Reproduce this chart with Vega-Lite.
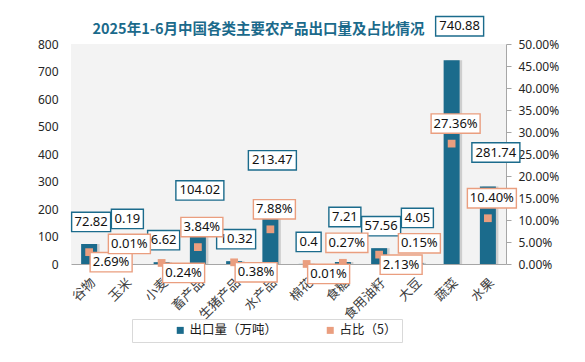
{
  "$schema": "https://vega.github.io/schema/vega-lite/v6.json",
  "width": 435,
  "height": 220,
  "autosize": "none",
  "padding": {"left": 71, "top": 44, "right": 79, "bottom": 98},
  "background": "#ffffff",
  "title": {"text": "2025年1-6月中国各类主要农产品出口量及占比情况", "font": "Noto Sans CJK SC", "fontSize": 14.5, "fontWeight": "bold", "color": "#1b6a8b", "anchor": "middle", "frame": "group", "dx": -30, "dy": 30, "offset": 6},
  "data": {"values": [
    {"cat": "谷物", "volume": 72.82, "share": 0.0269},
    {"cat": "玉米", "volume": 0.19, "share": 0.0001},
    {"cat": "小麦", "volume": 6.62, "share": 0.0024},
    {"cat": "畜产品", "volume": 104.02, "share": 0.0384},
    {"cat": "生猪产品", "volume": 10.32, "share": 0.0038},
    {"cat": "水产品", "volume": 213.47, "share": 0.0788},
    {"cat": "棉花", "volume": 0.4, "share": 0.0001},
    {"cat": "食糖", "volume": 7.21, "share": 0.0027},
    {"cat": "食用油籽", "volume": 57.56, "share": 0.0213},
    {"cat": "大豆", "volume": 4.05, "share": 0.0015},
    {"cat": "蔬菜", "volume": 740.88, "share": 0.2736},
    {"cat": "水果", "volume": 281.74, "share": 0.104}
  ]},
  "transform": [
    {"window": [{"op": "row_number", "as": "idx"}]},
    {"calculate": "(datum.idx - 1) % 2", "as": "par"},
    {"calculate": "toString(datum.volume)", "as": "vtxt"},
    {"calculate": "format(datum.share, '.2%')", "as": "stxt"},
    {"calculate": "'v' + length(datum.vtxt)", "as": "vkey"},
    {"calculate": "'s' + length(datum.stxt)", "as": "skey"}
  ],
  "encoding": {
    "x": {"field": "cat", "type": "nominal", "sort": null,
      "scale": {"paddingInner": 0.558, "paddingOuter": 0.279},
      "axis": {"title": null, "labelAngle": -45, "labelFont": "Noto Sans CJK SC", "labelFontSize": 13, "labelColor": "#404040", "ticks": false, "domainColor": "#a6a6a6", "domainWidth": 1.2, "labelPadding": 12}}
  },
  "layer": [
    {"mark": {"type": "bar", "size": 16, "xOffset": 2.5, "color": "#b5b5b5", "opacity": 0.6},
     "encoding": {"y": {"field": "volume", "type": "quantitative", "scale": {"domain": [0, 800]}, "axis": null}}},
    {"mark": {"type": "bar", "size": 16},
     "encoding": {
       "y": {"field": "volume", "type": "quantitative", "scale": {"domain": [0, 800]},
         "axis": {"title": null, "orient": "left", "domain": false, "ticks": false, "labelPadding": 13, "values": [0, 100, 200, 300, 400, 500, 600, 700, 800]}},
       "color": {"datum": "出口量（万吨）", "type": "nominal",
         "scale": {"domain": ["出口量（万吨）", "占比（5）"], "range": ["#1b6b8c", "#ea9e7f"]},
         "legend": {"title": null, "orient": "none", "legendX": 61, "legendY": 275, "direction": "horizontal", "symbolType": "square", "symbolSize": 49, "symbolOffset": 37, "symbolStrokeWidth": 0, "columnPadding": 9, "gridAlign": "all", "strokeColor": "#d9d9d9", "padding": 5, "labelFont": "Noto Sans CJK SC", "labelFontSize": 12.5, "labelColor": "#1a1a1a", "labelOffset": 3}}
     }},
    {"mark": {"type": "point", "shape": "square", "size": 60, "filled": true, "opacity": 1},
     "encoding": {
       "y": {"field": "share", "type": "quantitative", "scale": {"domain": [0, 0.5]},
         "axis": {"title": null, "orient": "right", "format": ".2%", "domainColor": "#a6a6a6", "tickColor": "#a6a6a6", "tickSize": 5, "labelPadding": 7, "values": [0, 0.05, 0.1, 0.15, 0.2, 0.25, 0.3, 0.35, 0.4, 0.45, 0.5]}},
       "color": {"datum": "占比（5）", "type": "nominal",
         "scale": {"domain": ["出口量（万吨）", "占比（5）"], "range": ["#1b6b8c", "#ea9e7f"]},
         "legend": {"title": null, "orient": "none", "legendX": 61, "legendY": 275, "direction": "horizontal", "symbolType": "square", "symbolSize": 49, "symbolOffset": 37, "symbolStrokeWidth": 0, "columnPadding": 9, "gridAlign": "all", "strokeColor": "#d9d9d9", "padding": 5, "labelFont": "Noto Sans CJK SC", "labelFontSize": 12.5, "labelColor": "#1a1a1a", "labelOffset": 3}}
     }},
    {"transform": [{"filter": "datum.par == 0 && datum.volume <= 250"}],
     "mark": {"type": "point", "size": 400, "filled": true, "fill": "#ffffff", "stroke": "#1b6b8c", "strokeWidth": 1.4, "opacity": 1, "xOffset": 2, "yOffset": -22},
     "encoding": {"y": {"field": "volume", "type": "quantitative", "scale": {"domain": [0, 800]}, "axis": null},
       "shape": {"field": "vkey", "type": "nominal", "legend": null, "scale": {"domain": ["v3", "v4", "v5", "v6", "s5", "s6"], "range": ["M-1.25,-0.97H1.25V0.97H-1.25Z", "M-1.6,-0.97H1.6V0.97H-1.6Z", "M-1.95,-0.97H1.95V0.97H-1.95Z", "M-2.4,-0.97H2.4V0.97H-2.4Z", "M-2.1,-0.97H2.1V0.97H-2.1Z", "M-2.45,-0.97H2.45V0.97H-2.45Z"]}}}},
    {"transform": [{"filter": "datum.par == 0 && datum.volume <= 250"}],
     "mark": {"type": "text", "font": "Noto Sans", "fontSize": 13, "color": "#111111", "baseline": "middle", "xOffset": 2, "yOffset": -22},
     "encoding": {"y": {"field": "volume", "type": "quantitative", "scale": {"domain": [0, 800]}, "axis": null}, "text": {"field": "vtxt"}}},
    {"transform": [{"filter": "datum.par == 1 && datum.volume <= 250"}],
     "mark": {"type": "point", "size": 400, "filled": true, "fill": "#ffffff", "stroke": "#1b6b8c", "strokeWidth": 1.4, "opacity": 1, "xOffset": 2, "yOffset": -45},
     "encoding": {"y": {"field": "volume", "type": "quantitative", "scale": {"domain": [0, 800]}, "axis": null},
       "shape": {"field": "vkey", "type": "nominal", "legend": null, "scale": {"domain": ["v3", "v4", "v5", "v6", "s5", "s6"], "range": ["M-1.25,-0.97H1.25V0.97H-1.25Z", "M-1.6,-0.97H1.6V0.97H-1.6Z", "M-1.95,-0.97H1.95V0.97H-1.95Z", "M-2.4,-0.97H2.4V0.97H-2.4Z", "M-2.1,-0.97H2.1V0.97H-2.1Z", "M-2.45,-0.97H2.45V0.97H-2.45Z"]}}}},
    {"transform": [{"filter": "datum.par == 1 && datum.volume <= 250"}],
     "mark": {"type": "text", "font": "Noto Sans", "fontSize": 13, "color": "#111111", "baseline": "middle", "xOffset": 2, "yOffset": -45},
     "encoding": {"y": {"field": "volume", "type": "quantitative", "scale": {"domain": [0, 800]}, "axis": null}, "text": {"field": "vtxt"}}},
    {"transform": [{"filter": "datum.volume > 250"}],
     "mark": {"type": "point", "size": 400, "filled": true, "fill": "#ffffff", "stroke": "#1b6b8c", "strokeWidth": 1.4, "opacity": 1, "xOffset": 8, "yOffset": -34},
     "encoding": {"y": {"field": "volume", "type": "quantitative", "scale": {"domain": [0, 800]}, "axis": null},
       "shape": {"field": "vkey", "type": "nominal", "legend": null, "scale": {"domain": ["v3", "v4", "v5", "v6", "s5", "s6"], "range": ["M-1.25,-0.97H1.25V0.97H-1.25Z", "M-1.6,-0.97H1.6V0.97H-1.6Z", "M-1.95,-0.97H1.95V0.97H-1.95Z", "M-2.4,-0.97H2.4V0.97H-2.4Z", "M-2.1,-0.97H2.1V0.97H-2.1Z", "M-2.45,-0.97H2.45V0.97H-2.45Z"]}}}},
    {"transform": [{"filter": "datum.volume > 250"}],
     "mark": {"type": "text", "font": "Noto Sans", "fontSize": 13, "color": "#111111", "baseline": "middle", "xOffset": 8, "yOffset": -34},
     "encoding": {"y": {"field": "volume", "type": "quantitative", "scale": {"domain": [0, 800]}, "axis": null}, "text": {"field": "vtxt"}}},
    {"transform": [{"filter": "datum.par == 0 && datum.share < 0.05"}],
     "mark": {"type": "point", "size": 400, "filled": true, "fill": "#ffffff", "stroke": "#ea9e7f", "strokeWidth": 1.4, "opacity": 1, "xOffset": 22, "yOffset": 10},
     "encoding": {"y": {"field": "share", "type": "quantitative", "scale": {"domain": [0, 0.5]}, "axis": null},
       "shape": {"field": "skey", "type": "nominal", "legend": null, "scale": {"domain": ["v3", "v4", "v5", "v6", "s5", "s6"], "range": ["M-1.25,-0.97H1.25V0.97H-1.25Z", "M-1.6,-0.97H1.6V0.97H-1.6Z", "M-1.95,-0.97H1.95V0.97H-1.95Z", "M-2.4,-0.97H2.4V0.97H-2.4Z", "M-2.1,-0.97H2.1V0.97H-2.1Z", "M-2.45,-0.97H2.45V0.97H-2.45Z"]}}}},
    {"transform": [{"filter": "datum.par == 0 && datum.share < 0.05"}],
     "mark": {"type": "text", "font": "Noto Sans", "fontSize": 13, "color": "#111111", "baseline": "middle", "xOffset": 22, "yOffset": 10},
     "encoding": {"y": {"field": "share", "type": "quantitative", "scale": {"domain": [0, 0.5]}, "axis": null}, "text": {"field": "stxt"}}},
    {"transform": [{"filter": "!(datum.par == 0 && datum.share < 0.05)"}],
     "mark": {"type": "point", "size": 400, "filled": true, "fill": "#ffffff", "stroke": "#ea9e7f", "strokeWidth": 1.4, "opacity": 1, "xOffset": 4, "yOffset": -20},
     "encoding": {"y": {"field": "share", "type": "quantitative", "scale": {"domain": [0, 0.5]}, "axis": null},
       "shape": {"field": "skey", "type": "nominal", "legend": null, "scale": {"domain": ["v3", "v4", "v5", "v6", "s5", "s6"], "range": ["M-1.25,-0.97H1.25V0.97H-1.25Z", "M-1.6,-0.97H1.6V0.97H-1.6Z", "M-1.95,-0.97H1.95V0.97H-1.95Z", "M-2.4,-0.97H2.4V0.97H-2.4Z", "M-2.1,-0.97H2.1V0.97H-2.1Z", "M-2.45,-0.97H2.45V0.97H-2.45Z"]}}}},
    {"transform": [{"filter": "!(datum.par == 0 && datum.share < 0.05)"}],
     "mark": {"type": "text", "font": "Noto Sans", "fontSize": 13, "color": "#111111", "baseline": "middle", "xOffset": 4, "yOffset": -20},
     "encoding": {"y": {"field": "share", "type": "quantitative", "scale": {"domain": [0, 0.5]}, "axis": null}, "text": {"field": "stxt"}}}
  ],
  "resolve": {"scale": {"y": "independent"}},
  "config": {
    "view": {"stroke": null, "fill": "#f3f3f3"},
    "axis": {"labelFont": "Noto Sans", "labelFontSize": 12, "labelColor": "#262626", "grid": false}
  }
}
